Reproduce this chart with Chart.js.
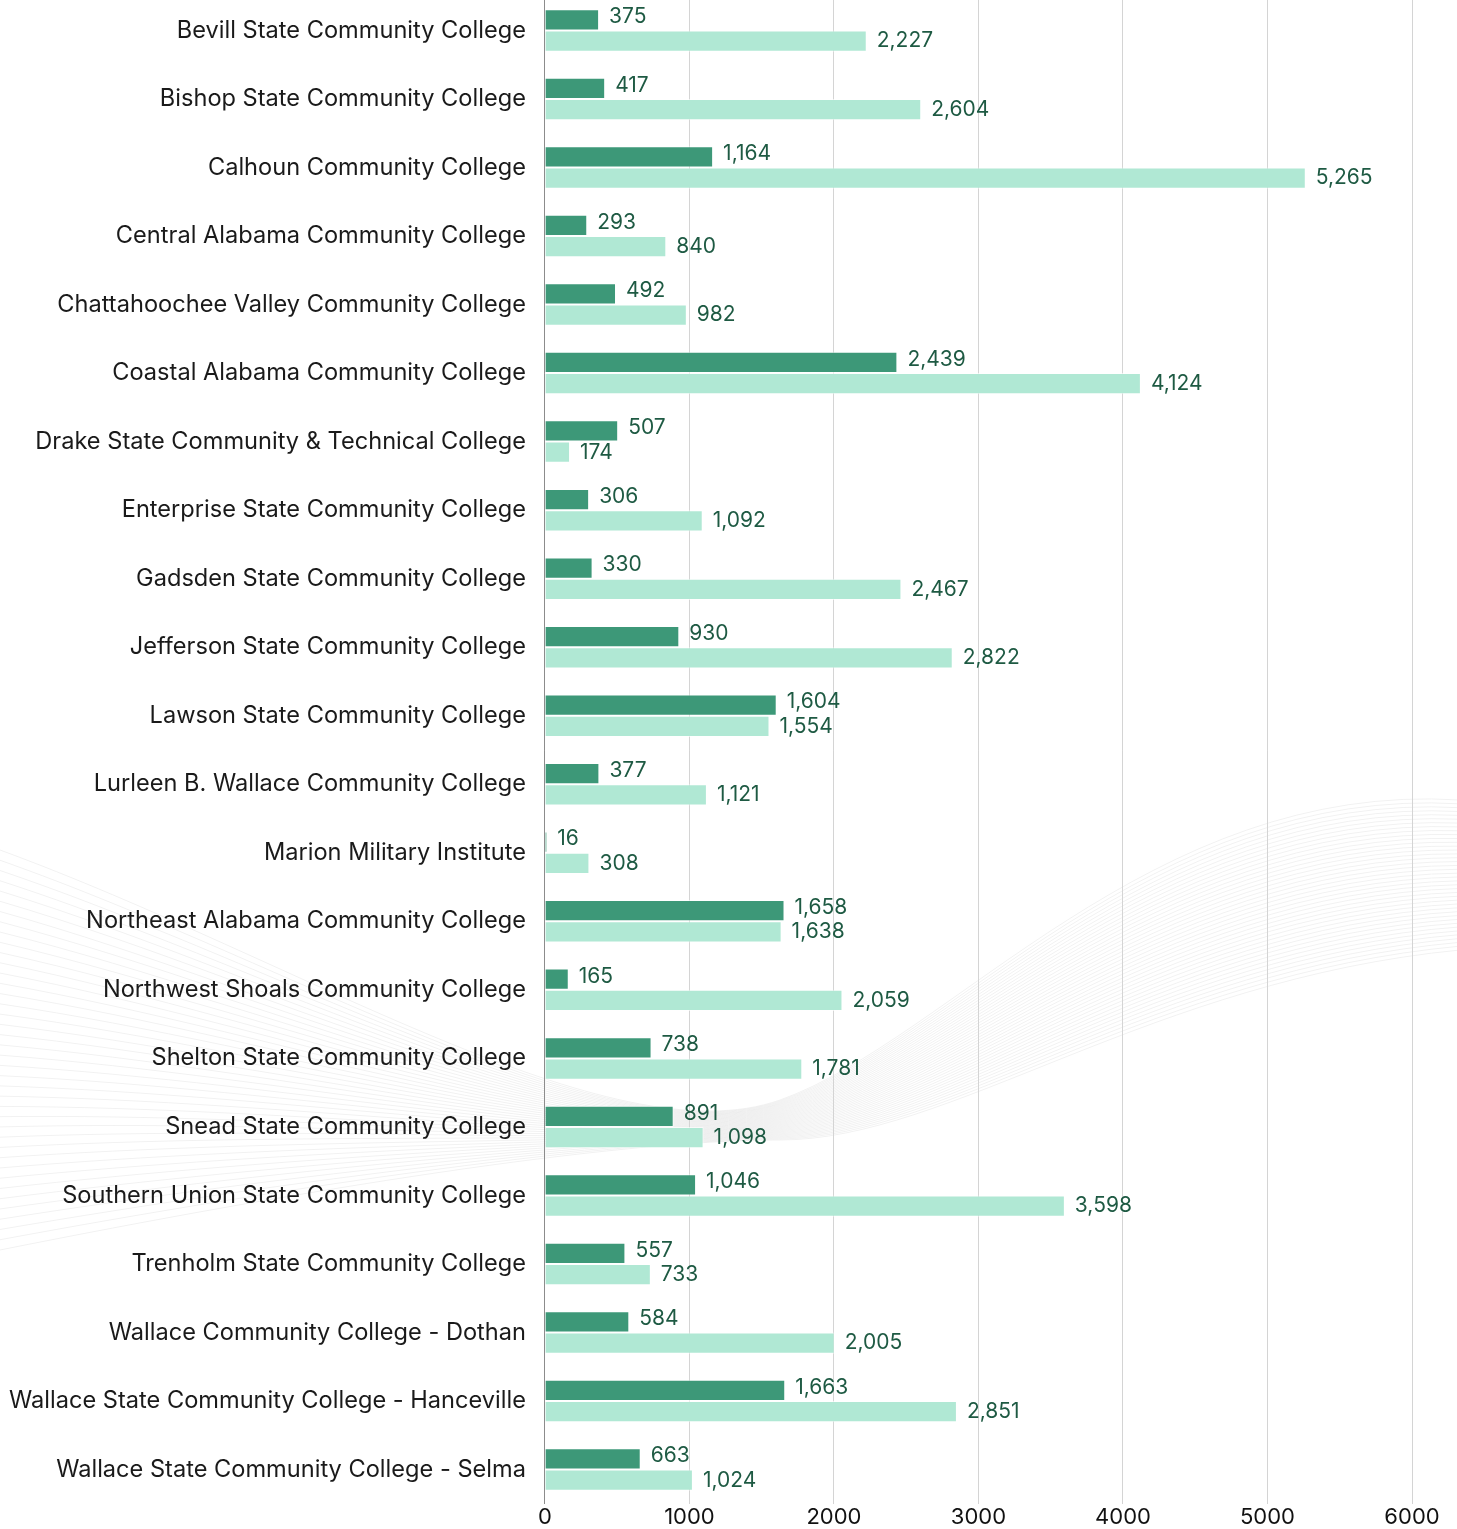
<!DOCTYPE html>
<html>
<head>
<meta charset="utf-8">
<script src="https://cdn.jsdelivr.net/npm/chart.js@4"></script>
<style>
  html, body { margin: 0; padding: 0; background: #fff; overflow: hidden; }
  #wrap { position: absolute; left: -20px; top: -37px; width: 1477px; height: 1574px; }
</style>
</head>
<body>
<div id="wrap"><canvas id="mycanvas1"></canvas></div>
<script>
var colleges = [
  "Bevill State Community College",
  "Bishop State Community College",
  "Calhoun Community College",
  "Central Alabama Community College",
  "Chattahoochee Valley Community College",
  "Coastal Alabama Community College",
  "Drake State Community & Technical College",
  "Enterprise State Community College",
  "Gadsden State Community College",
  "Jefferson State Community College",
  "Lawson State Community College",
  "Lurleen B. Wallace Community College",
  "Marion Military Institute",
  "Northeast Alabama Community College",
  "Northwest Shoals Community College",
  "Shelton State Community College",
  "Snead State Community College",
  "Southern Union State Community College",
  "Trenholm State Community College",
  "Wallace Community College - Dothan",
  "Wallace State Community College - Hanceville",
  "Wallace State Community College - Selma"
];
var seriesDark = [375, 417, 1164, 293, 492, 2439, 507, 306, 330, 930, 1604, 377, 16, 1658, 165, 738, 891, 1046, 557, 584, 1663, 663];
var seriesLight = [2227, 2604, 5265, 840, 982, 4124, 174, 1092, 2467, 2822, 1554, 1121, 308, 1638, 2059, 1781, 1098, 3598, 733, 2005, 2851, 1024];
var xTicks = [0, 1000, 2000, 3000, 4000, 5000, 6000];

// faint ribbon of curves behind the chart (page coords; canvas is shifted)
var waves = {
  id: 'waves',
  beforeDraw: function(chart) {
    var c = chart.ctx;
    c.save();
    c.translate(20, 37);
    c.strokeStyle = "rgba(0,0,0,0.055)";
    c.lineWidth = 1;
    for (var i = 0; i < 40; i++) {
      var t = i / 39;
      c.beginPath();
      c.moveTo(0, 850 + 400 * t);
      c.bezierCurveTo(300, 960 + 230 * t, 610, 1160 - 20 * t, 780, 1100 + 40 * t);
      c.bezierCurveTo(950, 1040 + 100 * t, 1150, 780 + 200 * t, 1460, 800 + 150 * t);
      c.stroke();
    }
    c.restore();
  }
};

var valueLabels = {
  id: 'valueLabels',
  afterDatasetsDraw: function(chart) {
    var c = chart.ctx;
    c.save();
    c.font = "21px Inter";
    c.fillStyle = "#1e5a43";
    c.textBaseline = "middle";
    c.textAlign = "left";
    chart.data.datasets.forEach(function(ds, di) {
      chart.getDatasetMeta(di).data.forEach(function(bar, i) {
        c.fillText(ds.data[i].toLocaleString("en-US"), bar.x + 10, bar.y + (di === 0 ? -3 : 0));
      });
    });
    c.restore();
  }
};

var ctx = document.getElementById("mycanvas1");
var chart = new Chart(ctx, {
  type: 'bar',
  data: {
    labels: colleges,
    datasets: [
      {
        label: "Series 1",
        data: seriesDark,
        backgroundColor: "#3d9878",
        borderColor: "rgba(255,255,255,0.6)",
        borderWidth: 1,
        categoryPercentage: 0.62,
        barPercentage: 1
      },
      {
        label: "Series 2",
        data: seriesLight,
        backgroundColor: "#b0e8d4",
        borderColor: "rgba(255,255,255,0.6)",
        borderWidth: 1,
        categoryPercentage: 0.62,
        barPercentage: 1
      }
    ]
  },
  options: {
    indexAxis: 'y',
    responsive: true,
    maintainAspectRatio: false,
    animation: false,
    layout: { padding: { top: 0, right: 45, left: 10, bottom: 0 } },
    plugins: {
      legend: { display: false },
      tooltip: { enabled: false }
    },
    scales: {
      x: {
        min: 0,
        max: 6000,
        afterBuildTicks: function(axis) {
          axis.ticks = xTicks.map(function(v) { return { value: v }; });
        },
        border: { display: false },
        grid: {
          drawTicks: false,
          color: function(g) { return g.tick && g.tick.value === 0 ? "#8c8c8c" : "#d4d4d4"; },
          lineWidth: 1
        },
        ticks: {
          padding: 0,
          color: "#111",
          font: { family: "Inter", size: 22 },
          callback: function(v) { return String(v); }
        }
      },
      y: {
        border: { display: false },
        grid: { display: false, drawTicks: false },
        ticks: {
          padding: 19,
          color: "#1a1a1a",
          font: { family: "Inter", size: 23.6 }
        }
      }
    }
  },
  plugins: [waves, valueLabels]
});
</script>
</body>
</html>
